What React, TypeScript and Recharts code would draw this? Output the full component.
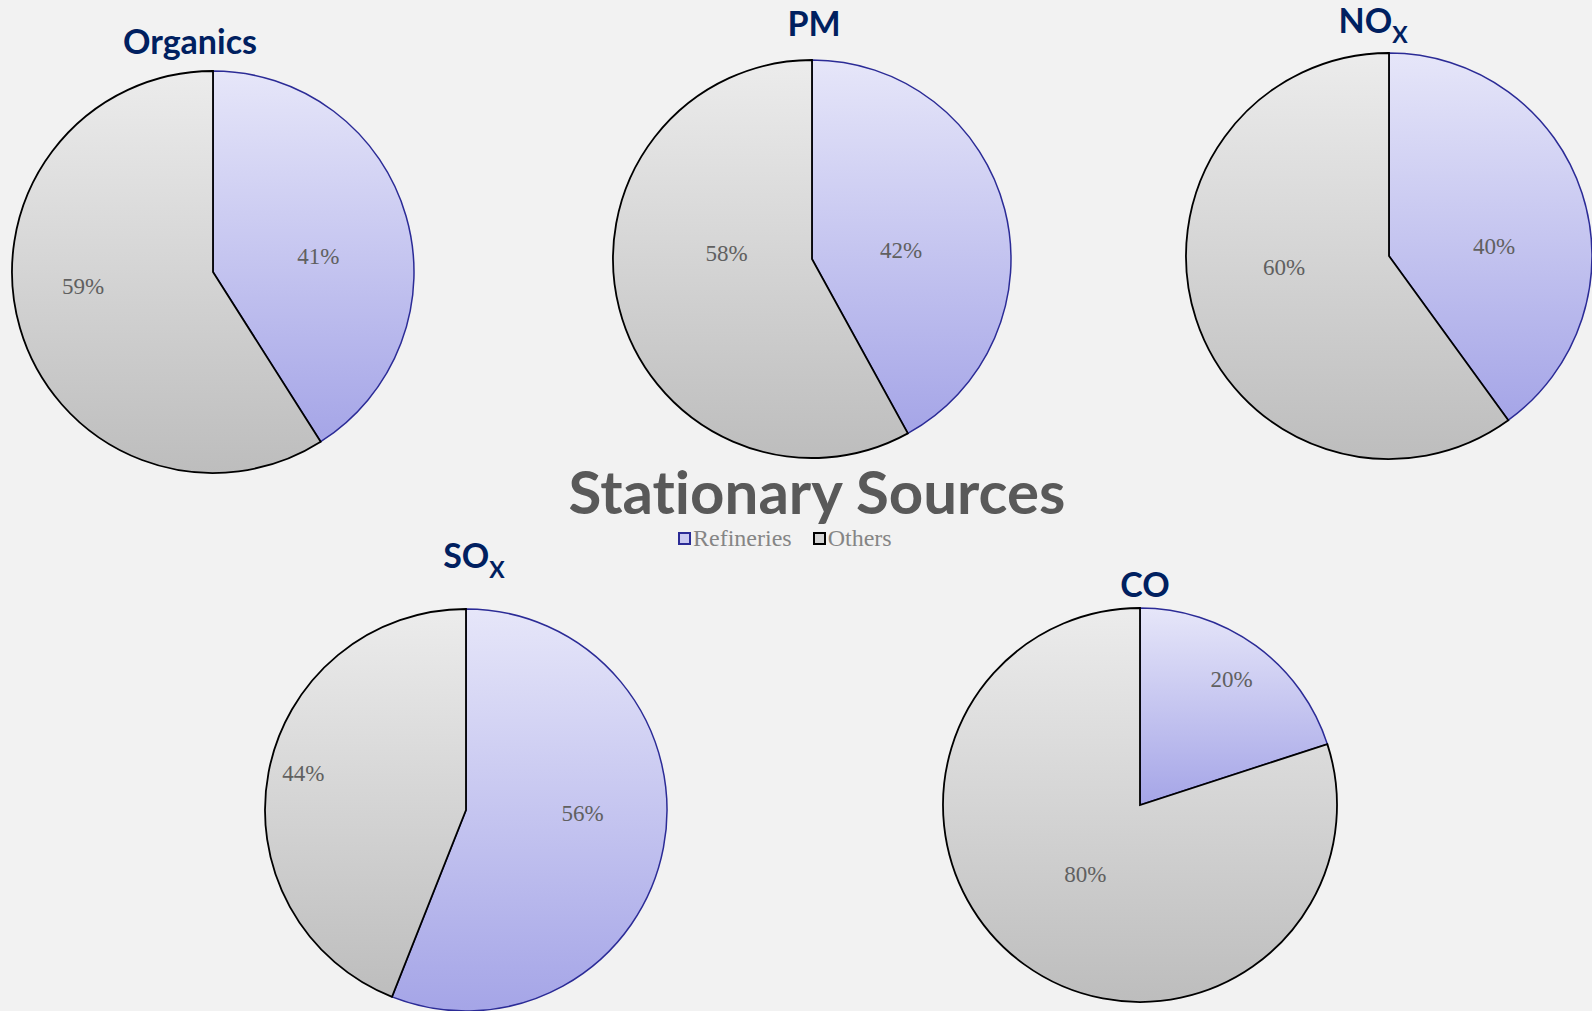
import { Cell, Legend, Pie, PieChart } from "recharts";

const seriesNames = ["Refineries", "Others"];
const pollutants = ["Organics", "PM", "NOx", "SOx", "CO"];
const refineriesShare = [41, 42, 40, 56, 20];
const othersShare = [59, 58, 60, 44, 80];
const titleMain = ["Organics", "PM", "NO", "SO", "CO"];
const titleSub = ["", "", "X", "X", ""];

// where each pie sits in the 1592x1011 frame, and where its labels / title go
const pieLayout = [
  { cx: 213, cy: 272, r: 201, tx: 190, ty: 54, labels: [[0.53, 8], [0.65, 10]] },
  { cx: 812, cy: 259, r: 199, tx: 814, ty: 36, labels: [[0.45, 9], [0.43, 18]] },
  { cx: 1389, cy: 256, r: 203, tx: 1373, ty: 33, labels: [[0.52, 13], [0.52, 12]] },
  { cx: 466, cy: 810, r: 201, tx: 474, ty: 568, labels: [[0.58, -9], [0.83, 2]] },
  { cx: 1140, cy: 805, r: 197, tx: 1145, ty: 597, labels: [[0.79, 0], [0.45, 2]] },
];

const W = 1592;
const H = 1011;
const RAD = Math.PI / 180;
const titleColor = "#002060";
const labelFont = '"Liberation Serif", "Times New Roman", serif';
const titleFont = 'Lato, "Open Sans", sans-serif';

const sliceStyle = [
  { fill: "url(#refGrad)", stroke: "#2b2b96", strokeWidth: 1.5 },
  { fill: "url(#othGrad)", stroke: "#000000", strokeWidth: 1.8 },
];

function makeLabel(spots: number[][]) {
  return (props: any) => {
    const { cx, cy, midAngle, outerRadius, index, value } = props;
    const [frac, shift] = spots[index];
    const ang = (midAngle - shift) * RAD;
    const x = cx + outerRadius * frac * Math.cos(ang);
    const y = cy - outerRadius * frac * Math.sin(ang);
    return (
      <text x={x} y={y} textAnchor="middle" dominantBaseline="central" fill="#606060" fontFamily={labelFont} fontSize={23}>
        {`${value}%`}
      </text>
    );
  };
}

function LegendBox() {
  const boxes = [
    { fill: "#cacaf2", stroke: "#2b2b96" },
    { fill: "#d4d4d4", stroke: "#000000" },
  ];
  return (
    <div style={{ display: "flex", alignItems: "center", fontFamily: labelFont, fontSize: 24, lineHeight: "24px", color: "#858585" }}>
      {seriesNames.map((name, i) => (
        <span key={name} style={{ display: "flex", alignItems: "center", marginRight: i === 0 ? 21 : 0 }}>
          <span
            style={{
              width: 9,
              height: 9,
              background: boxes[i].fill,
              border: `2px solid ${boxes[i].stroke}`,
              marginRight: 2,
              display: "inline-block",
            }}
          />
          {name}
        </span>
      ))}
    </div>
  );
}

export default function App() {
  return (
    <div style={{ position: "absolute", left: 0, top: 0, width: W, height: H, background: "#f2f2f2", overflow: "hidden" }}>
      <style>{"body{margin:0;overflow:hidden}"}</style>
      <PieChart width={W} height={H} margin={{ top: 0, right: 0, bottom: 0, left: 0 }}>
        <defs>
          <linearGradient id="refGrad" x1="0" y1="0" x2="0" y2="1">
            <stop offset="0%" stopColor="#e6e6f9" />
            <stop offset="100%" stopColor="#a5a5e7" />
          </linearGradient>
          <linearGradient id="othGrad" x1="0" y1="0" x2="0" y2="1">
            <stop offset="0%" stopColor="#ececec" />
            <stop offset="100%" stopColor="#bdbdbd" />
          </linearGradient>
        </defs>
        {pollutants.map((p, i) => {
          const lay = pieLayout[i];
          const rows = [
            { name: seriesNames[0], value: refineriesShare[i] },
            { name: seriesNames[1], value: othersShare[i] },
          ];
          return (
            <Pie
              key={p}
              data={rows}
              dataKey="value"
              nameKey="name"
              cx={lay.cx}
              cy={lay.cy}
              outerRadius={lay.r}
              startAngle={90}
              endAngle={-270}
              labelLine={false}
              label={makeLabel(lay.labels)}
              isAnimationActive={false}
            >
              {rows.map((r, j) => (
                <Cell key={r.name} {...sliceStyle[j]} />
              ))}
            </Pie>
          );
        })}
        <Legend content={() => <LegendBox />} wrapperStyle={{ position: "absolute", left: 678, top: 526, width: 260 }} />
      </PieChart>
      <svg width={W} height={H} style={{ position: "absolute", left: 0, top: 0, pointerEvents: "none", fontVariantLigatures: "none" }}>
        {pollutants.map((p, i) => (
          <text key={p} x={pieLayout[i].tx} y={pieLayout[i].ty} textAnchor="middle" fill={titleColor} fontFamily={titleFont} fontWeight={700} fontSize={34}>
            {titleMain[i]}
            {titleSub[i] && (
              <tspan fontSize={23} dy={10}>
                {titleSub[i]}
              </tspan>
            )}
          </text>
        ))}
        <text x={817} y={514} textAnchor="middle" fill="#595959" fontFamily={titleFont} fontWeight={700} fontSize={60} style={{ fontFeatureSettings: '"liga" 0' }}>
          Stationary Sources
        </text>
      </svg>
    </div>
  );
}
